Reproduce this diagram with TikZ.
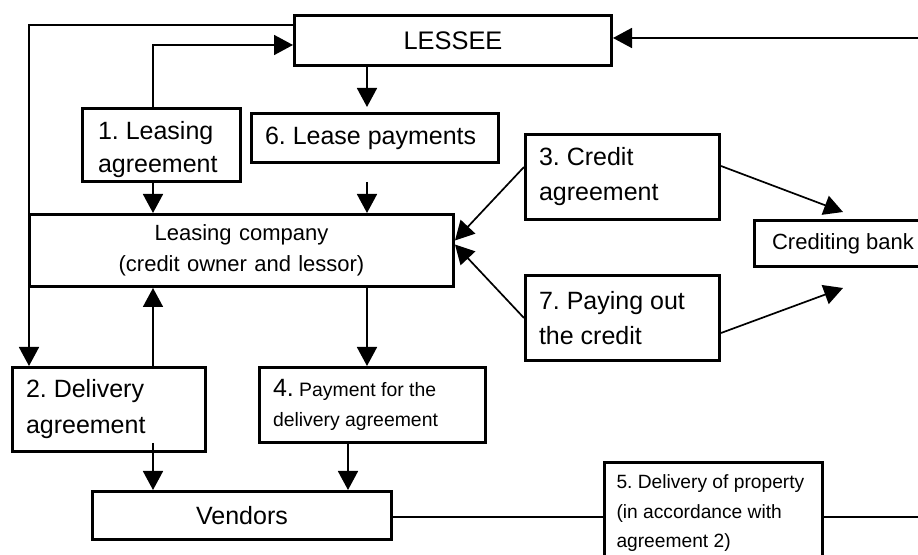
\documentclass[tikz,border=0pt]{standalone}
\usepackage{fontspec}
\setmainfont{Liberation Sans}
\usetikzlibrary{arrows.meta,positioning,calc}
\frenchspacing
\newcommand{\bigtxt}{\fontsize{12.5}{17.5}\selectfont}
\newcommand{\midtxt}{\fontsize{11}{15.5}\selectfont}
\newcommand{\smalltxt}{\fontsize{9.7}{15}\selectfont}
\tikzset{
  partybox/.style={draw,line width=1.5pt,inner xsep=6.75pt,inner ysep=0pt,align=center,font=\bigtxt},
  stepbox/.style={draw,line width=1.5pt,inner xsep=6.75pt,inner ysep=0pt,align=flush left,font=\bigtxt},
  flowarrow/.style={-{Triangle[length=9.5pt,width=10pt]},line width=0.85pt},
  plainline/.style={line width=0.85pt}
}

\begin{document}
\begin{tikzpicture}[x=0.5pt,y=-0.5pt]
  \useasboundingbox (0,0) rectangle (918,555);
  % parties
  \node[partybox,font=\fontsize{12.7}{17.5}\selectfont,text width=145pt,minimum height=25pt] (lessee) at (453,40.5) {LESSEE};
  \node[partybox,font=\midtxt,text width=198.5pt,minimum height=36pt] (lc) at (241.5,250.5)
    {Leasing company\\(credit owner and lessor)};
  \node[partybox,font=\midtxt,inner xsep=8.75pt,minimum height=23pt] (bank) at (843,243.5) {Crediting bank};
  \node[partybox,text width=136pt,minimum height=24pt] (vendors) at (242,515.5) {Vendors};
  % steps
  \node[stepbox,inner xsep=7.75pt,text width=63.5pt,minimum height=36.5pt,
    font=\fontsize{12.5}{16.5}\selectfont] (one) at (161.5,145) {\rule{0pt}{13.6pt}1. Leasing\\agreement};
  \node[stepbox,font=\fontsize{12.5}{18}\selectfont,text width=83pt,minimum height=42pt] (two) at (109,409.5)
    {2. Delivery\\agreement};
  \node[stepbox,text width=83.5pt,minimum height=42.5pt] (three) at (622.5,177) {3. Credit\\agreement};
  \node[stepbox,font=\smalltxt,text width=99.5pt,minimum height=37.5pt] (four) at (372.5,405)
    {{\bigtxt 4.} Payment for the\\delivery agreement};
  \node[stepbox,font=\fontsize{9.6}{14.75}\selectfont,inner xsep=6pt,text width=97pt,minimum height=51pt] (five) at (713.5,513.5)
    {5. Delivery of property\\(in accordance with\\agreement 2)};
  \node[stepbox,text width=110pt,minimum height=24.5pt] (six) at (375,138) {6. Lease payments};
  \node[stepbox,text width=83.5pt,minimum height=42.5pt] (seven) at (622.5,318) {7. Paying out\\the credit};
  % rails and columns
  \coordinate (railL) at (29,25);
  \coordinate (colA) at (153,45);
  \coordinate (colB) at (367,0);
  \coordinate (colC) at (348,0);
  \coordinate (rimtop) at (918,38);
  \coordinate (rimlow) at (918,517);
  % connectors
  \draw[flowarrow] (lessee.west |- railL) -| (two.north -| railL);
  \draw[flowarrow] (one.north -| colA) |- (lessee.west |- colA);
  \draw[flowarrow,shorten >=2.5pt] (lessee.south -| colB) -- (six.north -| colB);
  \draw[flowarrow] (one.south -| colA) -- (lc.north -| colA);
  \draw[flowarrow,shorten <=9pt] (six.south -| colB) -- (lc.north -| colB);
  \draw[flowarrow] (lc.south -| colB) -- (four.north -| colB);
  \draw[flowarrow] (two.north -| colA) -- (lc.south -| colA);
  \draw[flowarrow,shorten <=-5pt] (two.south -| colA) -- (vendors.north -| colA);
  \draw[flowarrow] (four.south -| colC) -- (vendors.north -| colC);
  \draw[plainline] (vendors.east |- rimlow) -- (five.west |- rimlow);
  \draw[plainline] (five.east |- rimlow) -- (rimlow);
  \draw[flowarrow] (rimtop) -- (lessee.east |- rimtop);
  \draw[flowarrow] ([yshift=5pt]three.west) -- ([yshift=5pt]lc.east);
  \draw[flowarrow] (seven.west) -- ([yshift=3pt]lc.east);
  \draw[flowarrow] ([yshift=5.5pt]three.east) -- ([yshift=3.5pt]bank.north);
  \draw[flowarrow] ([yshift=-7.5pt]seven.east) -- ([yshift=-10pt]bank.south);
\end{tikzpicture}
\end{document}
